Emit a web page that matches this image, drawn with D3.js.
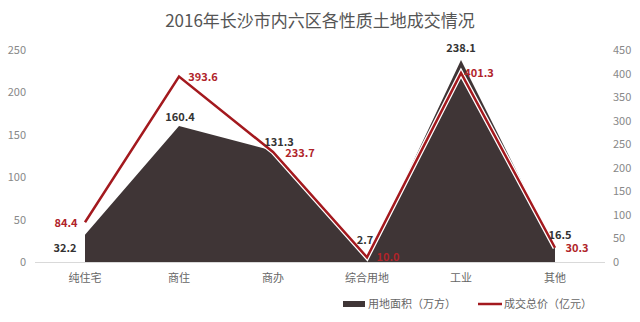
<!DOCTYPE html>
<html>
<head>
<meta charset="utf-8">
<script src="https://cdn.jsdelivr.net/npm/d3@7"></script>
<style>
  body { margin: 0; background: #fff; }
  text { font-family: "Noto Sans CJK SC", "Noto Sans", sans-serif; }
</style>
</head>
<body>
<svg id="chart" width="640" height="322"></svg>
<script>
const categories = ["纯住宅", "商住", "商办", "综合用地", "工业", "其他"];
const area = [32.2, 160.4, 131.3, 2.7, 238.1, 16.5];   // 用地面积（万方）
const price = [84.4, 393.6, 233.7, 10.0, 401.3, 30.3];  // 成交总价（亿元）
const leftTicks = [0, 50, 100, 150, 200, 250];
const rightTicks = [0, 50, 100, 150, 200, 250, 300, 350, 400, 450];

const svg = d3.select("#chart");
const plotTop = 50, plotBottom = 262;

const x = d3.scalePoint().domain(categories).range([85, 555]);
const yL = d3.scaleLinear().domain([0, 250]).range([plotBottom, plotTop]);
const yR = d3.scaleLinear().domain([0, 450]).range([plotBottom, plotTop]);

// title
svg.append("text")
    .attr("x", 320).attr("y", 27)
    .attr("text-anchor", "middle")
    .attr("font-size", 17)
    .attr("fill", "#555")
    .text("2016年长沙市内六区各性质土地成交情况");

// axes tick labels
svg.append("g").selectAll("text")
  .data(leftTicks)
  .join("text")
    .attr("x", 26).attr("y", d => yL(d) + 4)
    .attr("text-anchor", "end")
    .attr("font-size", 11).attr("fill", "#888")
    .text(d => d);

svg.append("g").selectAll("text")
  .data(rightTicks)
  .join("text")
    .attr("x", 613).attr("y", d => yR(d) + 4)
    .attr("text-anchor", "start")
    .attr("font-size", 11).attr("fill", "#888")
    .text(d => d);

// baseline
svg.append("line")
    .attr("x1", 35).attr("x2", 605)
    .attr("y1", plotBottom + 0.5).attr("y2", plotBottom + 0.5)
    .attr("stroke", "#d9d9d9");

// area
const areaGen = d3.area()
    .x((d, i) => x(categories[i]))
    .y0(yL(0))
    .y1(d => yL(d));

svg.append("path")
    .datum(area)
    .attr("d", areaGen)
    .attr("fill", "#3f3536");

// price line
const lineGen = d3.line()
    .x((d, i) => x(categories[i]))
    .y(d => yR(d));

svg.append("path")
    .datum(price)
    .attr("d", lineGen)
    .attr("fill", "none")
    .attr("stroke", "#fff")
    .attr("stroke-width", 5);

svg.append("path")
    .datum(price)
    .attr("d", lineGen)
    .attr("fill", "none")
    .attr("stroke", "#a3191e")
    .attr("stroke-width", 2.5);

// area labels
const areaOff = [[-20, 13], [1, -9], [6, -9], [-2, -20], [0, -12], [5, -13]];
svg.append("g").selectAll("text")
  .data(area)
  .join("text")
    .attr("x", (d, i) => x(categories[i]) + areaOff[i][0])
    .attr("y", (d, i) => yL(d) + areaOff[i][1] + 4)
    .attr("text-anchor", "middle")
    .attr("font-size", 11).attr("font-weight", "bold")
    .attr("fill", "#333")
    .text(d => d.toFixed(1));

// price labels
const priceOff = [[-19, 1], [24, 0], [27, 1], [21, 0], [18, 0], [22, 0]];
svg.append("g").selectAll("text")
  .data(price)
  .join("text")
    .attr("x", (d, i) => x(categories[i]) + priceOff[i][0])
    .attr("y", (d, i) => yR(d) + priceOff[i][1] + 4)
    .attr("text-anchor", "middle")
    .attr("font-size", 11).attr("font-weight", "bold")
    .attr("fill", "#b0242a")
    .text(d => d.toFixed(1));

// category labels
svg.append("g").selectAll("text")
  .data(categories)
  .join("text")
    .attr("x", d => x(d)).attr("y", 282)
    .attr("text-anchor", "middle")
    .attr("font-size", 11).attr("fill", "#666")
    .text(d => d);

// legend
const lg = svg.append("g").attr("font-size", 11);
lg.append("rect").attr("x", 343).attr("y", 301).attr("width", 22).attr("height", 6).attr("fill", "#3f3536");
lg.append("text").attr("x", 368).attr("y", 308).attr("fill", "#666").text("用地面积（万方）");
lg.append("line").attr("x1", 478).attr("x2", 502).attr("y1", 304).attr("y2", 304)
    .attr("stroke", "#a3191e").attr("stroke-width", 2.5);
lg.append("text").attr("x", 504).attr("y", 308).attr("fill", "#666").text("成交总价（亿元）");
</script>
</body>
</html>
